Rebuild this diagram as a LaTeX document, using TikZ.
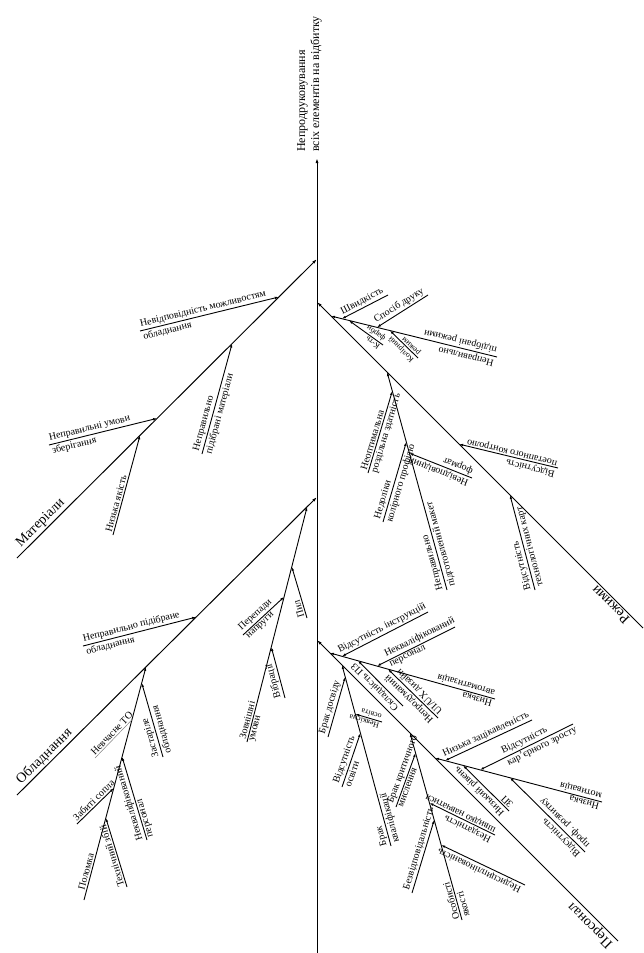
\documentclass[tikz,border=0pt]{standalone}
\usepackage{fontspec}
\setmainfont{Liberation Serif}
\usetikzlibrary{arrows.meta,calc}

\begin{document}
\begin{tikzpicture}[
  x=1pt, y=-1pt,
  font=\fontsize{10}{11}\selectfont,
  bone/.style={line width=1pt, -{Latex[length=5pt,width=3pt]}},
  rib/.style={line width=0.9pt, -{Latex[length=4pt,width=2.6pt]}},
  bir/.style={line width=0.9pt, {Latex[length=4pt,width=2.6pt]}-},
  up/.style={sloped, allow upside down, anchor=south west, inner sep=1.5pt},
  dn/.style={sloped, allow upside down, anchor=north west, inner sep=1.5pt},
  upc/.style={sloped, allow upside down, anchor=south, inner sep=1.5pt, pos=0.5},
  big/.style={font=\fontsize{14}{16}\selectfont},
  sm/.style={font=\fontsize{8}{9}\selectfont}
]
\useasboundingbox (0,0) rectangle (643,953);

\coordinate (spB) at (317,953);
\coordinate (spT) at (317,158);
\node[rotate=90, anchor=south west, align=left, inner sep=0pt, font=\fontsize{12}{14}\selectfont] (eff) at (322,152) {Непродруковування\\всіх елементів на відбитку};
\draw[bone] (spB) -- (spT);

% Матеріали
\coordinate (matS) at (17,558);
\coordinate (matT) at (317,259);
\coordinate (m1s) at (140,331);
\coordinate (m1) at ($(matS)!0.873!(matT)$);
\coordinate (m2s) at (49,445);
\coordinate (m2) at ($(matS)!0.467!(matT)$);
\coordinate (m3s) at (202,454);
\coordinate (m3) at ($(matS)!0.717!(matT)$);
\coordinate (m4s) at (113,535);
\coordinate (m4) at ($(matS)!0.41!(matT)$);
\draw[bone] (matS) -- node[up, big, pos=0.02] {Матеріали} (matT);
\draw[rib] (m1s) -- node[up, pos=0] {Невідповідність можливостям} node[dn, pos=0] {обладнання} (m1);
\draw[rib] (m2s) -- node[up, pos=0] {Неправильні умови} node[dn, pos=0] {зберігання} (m2);
\draw[rib] (m3s) -- node[up, pos=0] {Неправильно} node[dn, pos=0] {підібрані матеріали} (m3);
\draw[rib] (m4s) -- node[up, pos=0] {Низька якість} (m4);

% Обладнання
\coordinate (eqS) at (17,795);
\coordinate (eqT) at (317,497);
\coordinate (e1s) at (83,646);
\coordinate (e1) at ($(eqS)!0.597!(eqT)$);
\coordinate (e2s) at (84,900);
\coordinate (e2) at ($(eqS)!0.43!(eqT)$);
\coordinate (e21s) at (127,887);
\coordinate (e21) at ($(e2s)!0.352!(e2)$);
\coordinate (e22s) at (77,824);
\coordinate (e22) at ($(e2s)!0.48!(e2)$);
\coordinate (e23s) at (147,840);
\coordinate (e23) at ($(e2s)!0.614!(e2)$);
\coordinate (e24s) at (95,758);
\coordinate (e24) at ($(e2s)!0.773!(e2)$);
\coordinate (e25s) at (163,757);
\coordinate (e25) at ($(e2s)!0.931!(e2)$);
\coordinate (e3s) at (247,742);
\coordinate (e3) at ($(eqS)!0.967!(eqT)$);
\coordinate (e31s) at (285,698);
\coordinate (e31) at ($(e3s)!0.404!(e3)$);
\coordinate (e32s) at (243,635);
\coordinate (e32) at ($(e3s)!0.617!(e3)$);
\coordinate (e33s) at (307,618);
\coordinate (e33) at ($(e3s)!0.745!(e3)$);
\draw[bone] (eqS) -- node[up, big, pos=0.02] {Обладнання} (eqT);
\draw[rib] (e1s) -- node[up, pos=0] {Неправильно підібране} node[dn, pos=0] {обладнання} (e1);
\draw[rib] (e2s) -- node[up, pos=0.03] {Поломка} (e2);
\draw[rib] (e21s) -- node[up, pos=0] {Технічний збій} (e21);
\draw[rib] (e22s) -- node[up, pos=0] {Забиті сопла} (e22);
\draw[rib] (e23s) -- node[up, pos=0] {Некваліфікований} node[dn, pos=0] {персонал} (e23);
\draw[line width=0.5pt, gray] (e24s) -- node[up, pos=0, black] {Невчасне ТО} (e24);
\draw[rib] (e25s) -- node[up, pos=0] {Застаріле} node[dn, pos=0] {обладнання} (e25);
\draw[rib] (e3s) -- node[up, pos=0] {Зовнішні} node[dn, pos=0] {умови} (e3);
\draw[rib] (e31s) -- node[up, pos=0] {Вібрації} (e31);
\draw[rib] (e32s) -- node[up, pos=0] {Перепади} node[dn, pos=0] {напруги} (e32);
\draw[rib] (e33s) -- node[up, pos=0] {Пил} (e33);

% Режими
\coordinate (regS) at (643,628);
\coordinate (regT) at (317,302);
\coordinate (r1s) at (497,357);
\coordinate (r1) at ($(regS)!0.957!(regT)$);
\coordinate (r11s) at (388,295);
\coordinate (r11) at ($(r1s)!0.934!(r1)$);
\coordinate (r12s) at (428,295);
\coordinate (r12) at ($(r1s)!0.723!(r1)$);
\coordinate (r13s) at (383,345);
\coordinate (r13) at ($(r1s)!0.892!(r1)$);
\coordinate (r14s) at (418,358);
\coordinate (r14) at ($(r1s)!0.645!(r1)$);
\coordinate (r2s) at (447,590);
\coordinate (r2) at ($(regS)!0.785!(regT)$);
\coordinate (r21s) at (368,473);
\coordinate (r21) at ($(r2s)!0.913!(r2)$);
\coordinate (r22s) at (383,522);
\coordinate (r22) at ($(r2s)!0.679!(r2)$);
\coordinate (r23s) at (472,478);
\coordinate (r23) at ($(r2s)!0.628!(r2)$);
\coordinate (r3s) at (558,468);
\coordinate (r3) at ($(regS)!0.564!(regT)$);
\coordinate (r4s) at (535,590);
\coordinate (r4) at ($(regS)!0.408!(regT)$);
\draw[bone] (regS) -- node[up, big, pos=0.03] {Режими} (regT);
\draw[rib] (r1s) -- node[up, pos=0] {Неправильно} node[dn, pos=0] {підібрані режими} (r1);
\draw[bir] (r11) -- node[upc] {Швидкість} (r11s);
\draw[bir] (r12) -- node[upc] {Спосіб друку} (r12s);
\draw[rib] (r13s) -- node[up, sm, pos=0] {К-ть} node[dn, sm, pos=0] {фарби} (r13);
\draw[rib] (r14s) -- node[up, sm, pos=0] {Колірний} node[dn, sm, pos=0] {режим} (r14);
\draw[rib] (r2s) -- node[up, pos=0] {Неправильно} node[dn, pos=0] {підготовлений макет} (r2);
\draw[rib] (r21s) -- node[up, pos=0] {Неоптимальна} node[dn, pos=0] {роздільна здатність} (r21);
\draw[rib] (r22s) -- node[up, pos=0] {Недоліки} node[dn, pos=0] {колірного профілю} (r22);
\draw[rib] (r23s) -- node[up, pos=0] {Невідповідний} node[dn, pos=0] {формат} (r23);
\draw[rib] (r3s) -- node[up, pos=0] {Відсутність} node[dn, pos=0] {поетапного контролю} (r3);
\draw[rib] (r4s) -- node[up, pos=0] {Відсутність} node[dn, pos=0] {технологічних карт} (r4);

% Персонал
\coordinate (perS) at (618,941);
\coordinate (perT) at (317,640);
\coordinate (p1s) at (495,699);
\coordinate (p1) at ($(perS)!0.957!(perT)$);
\coordinate (p11s) at (428,612);
\coordinate (p11) at ($(p1s)!0.927!(p1)$);
\coordinate (p12s) at (455,627);
\coordinate (p12) at ($(p1s)!0.715!(p1)$);
\coordinate (p13s) at (403,706);
\coordinate (p13) at ($(p1s)!0.83!(p1)$);
\coordinate (p14s) at (438,718);
\coordinate (p14) at ($(p1s)!0.648!(p1)$);
\coordinate (p2s) at (391,846);
\coordinate (p2) at ($(perS)!0.917!(perT)$);
\coordinate (p21s) at (328,737);
\coordinate (p21) at ($(p2s)!0.934!(p2)$);
\coordinate (p22s) at (382,722);
\coordinate (p22) at ($(p2s)!0.729!(p2)$);
\coordinate (p23s) at (342,787);
\coordinate (p23) at ($(p2s)!0.624!(p2)$);
\coordinate (p3s) at (462,920);
\coordinate (p3) at ($(perS)!0.691!(perT)$);
\coordinate (p31s) at (396,807);
\coordinate (p31) at ($(p3s)!0.893!(p3)$);
\coordinate (p32s) at (495,835);
\coordinate (p32) at ($(p3s)!0.626!(p3)$);
\coordinate (p33s) at (412,893);
\coordinate (p33) at ($(p3s)!0.535!(p3)$);
\coordinate (p34s) at (525,885);
\coordinate (p34) at ($(p3s)!0.401!(p3)$);
\coordinate (p4s) at (602,802);
\coordinate (p4) at ($(perS)!0.608!(perT)$);
\coordinate (p41s) at (532,720);
\coordinate (p41) at ($(p4s)!0.94!(p4)$);
\coordinate (p42s) at (573,724);
\coordinate (p42) at ($(p4s)!0.73!(p4)$);
\coordinate (p43s) at (509,811);
\coordinate (p43) at ($(p4s)!0.832!(p4)$);
\coordinate (p44s) at (585,852);
\coordinate (p44) at ($(p4s)!0.551!(p4)$);
\draw[bone] (perS) -- node[up, big, pos=0] {Персонал} (perT);
\draw[rib] (p1s) -- node[up, pos=0] {Низька} node[dn, pos=0] {автоматизація} (p1);
\draw[bir] (p11) -- node[upc] {Відсутність інструкцій} (p11s);
\draw[bir] (p12) -- node[up, pos=0.12] {Некваліфікований} node[dn, pos=0.12] {персонал} (p12s);
\draw[rib] (p13s) -- node[up, pos=0] {Складність ПЗ} (p13);
\draw[rib] (p14s) -- node[up, pos=0] {Непродуманий} node[dn, pos=0] {UI/UX дизайн} (p14);
\draw[rib] (p2s) -- node[up, pos=0] {Брак} node[dn, pos=0] {кваліфікації} (p2);
\draw[rib] (p21s) -- node[up, pos=0] {Брак досвіду} (p21);
\draw[rib] (p22s) -- node[up, sm, pos=0] {Неякісна} node[dn, sm, pos=0] {освіта} (p22);
\draw[rib] (p23s) -- node[up, pos=0] {Відсутність} node[dn, pos=0] {освіти} (p23);
\draw[rib] (p3s) -- node[up, pos=0] {Особисті} node[dn, pos=0] {якості} (p3);
\draw[rib] (p31s) -- node[up, pos=0] {Брак критичного} node[dn, pos=0] {мислення} (p31);
\draw[rib] (p32s) -- node[up, pos=0] {Нездатність} node[dn, pos=0] {швидко навчатися} (p32);
\draw[rib] (p33s) -- node[up, pos=0] {Безвідповідальність} (p33);
\draw[rib] (p34s) -- node[up, pos=0] {Недисциплінованість} (p34);
\draw[rib] (p4s) -- node[up, pos=0] {Низька} node[dn, pos=0] {мотивація} (p4);
\draw[bir] (p41) -- node[upc] {Низька зацікавленість} (p41s);
\draw[bir] (p42) -- node[up, pos=0.25] {Відсутність} node[dn, pos=0.25] {кар’єрного зросту} (p42s);
\draw[rib] (p43s) -- node[up, pos=0] {Низький рівень} node[dn, pos=0] {ЗП} (p43);
\draw[rib] (p44s) -- node[up, pos=0] {Відсутність} node[dn, pos=0] {проф. розвитку} (p44);
\end{tikzpicture}
\end{document}
